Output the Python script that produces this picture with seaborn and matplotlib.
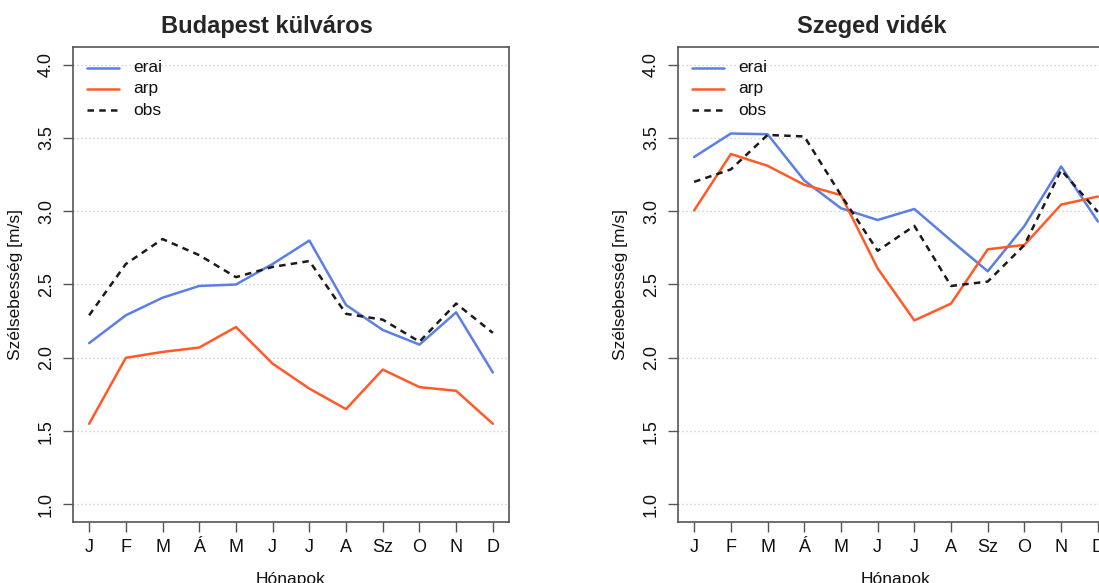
import matplotlib
matplotlib.use("Agg")
import matplotlib.pyplot as plt
import seaborn as sns
import pandas as pd

sns.set_style("white")
plt.rcParams["font.family"] = ["Liberation Sans", "DejaVu Sans"]

months = ["J", "F", "M", "Á", "M", "J", "J", "A", "Sz", "O", "N", "D"]
yticks = [1.0, 1.5, 2.0, 2.5, 3.0, 3.5, 4.0]

# Budapest külváros
bp_erai = [2.10, 2.29, 2.41, 2.49, 2.50, 2.64, 2.80, 2.36, 2.19, 2.09, 2.31, 1.90]
bp_arp = [1.55, 2.00, 2.04, 2.07, 2.21, 1.96, 1.79, 1.65, 1.92, 1.80, 1.775, 1.55]
bp_obs = [2.29, 2.64, 2.81, 2.70, 2.55, 2.62, 2.66, 2.30, 2.26, 2.11, 2.37, 2.17]

# Szeged vidék
sz_erai = [3.37, 3.53, 3.525, 3.21, 3.02, 2.94, 3.015, 2.80, 2.59, 2.90, 3.305, 2.93]
sz_arp = [3.005, 3.39, 3.31, 3.18, 3.11, 2.61, 2.255, 2.37, 2.74, 2.77, 3.045, 3.10]
sz_obs = [3.20, 3.285, 3.52, 3.51, 3.11, 2.73, 2.90, 2.49, 2.52, 2.77, 3.28, 2.995]

series_names = ["erai", "arp", "obs"]
colors = {"erai": "#5B7FE6", "arp": "#FF5A28", "obs": "#1a1a1a"}
dashes = {"erai": "", "arp": "", "obs": (2.6, 2.1)}

panels = [
    ("Budapest külváros", [bp_erai, bp_arp, bp_obs]),
    ("Szeged vidék", [sz_erai, sz_arp, sz_obs]),
]

W, H = 1099, 583
fig = plt.figure(figsize=(W / 100, H / 100), dpi=100)

ax_left_px = [73, 678]
ax_w_px = 436
ax_top_px, ax_bot_px = 47, 522

frame_col = "#555555"

for (title, vals), lx in zip(panels, ax_left_px):
    ax = fig.add_axes([lx / W, 1 - ax_bot_px / H, ax_w_px / W, (ax_bot_px - ax_top_px) / H])
    x = list(range(1, 13))
    df = pd.DataFrame({
        "x": x * 3,
        "y": vals[0] + vals[1] + vals[2],
        "s": sum([[n] * 12 for n in series_names], []),
    })
    for yt in yticks:
        ax.axhline(yt, color="#c8c8c8", lw=0.9, ls=(0, (1, 2.2)), zorder=0)
    sns.lineplot(data=df, x="x", y="y", hue="s", style="s", palette=colors,
                 dashes=dashes, ax=ax, lw=1.8, legend=False, zorder=3)

    ax.set_xlim(0.56, 12.44)
    ax.set_ylim(0.88, 4.12)
    ax.set_xticks(x)
    ax.set_xticklabels(months)
    ax.set_yticks(yticks)
    ax.set_yticklabels([f"{v:.1f}" for v in yticks], rotation=90, va="center")
    ax.tick_params(axis="both", direction="out", length=7, width=1.0,
                   color=frame_col, labelsize=13, labelcolor="#111111",
                   bottom=True, left=True)
    ax.tick_params(axis="x", pad=5)
    ax.tick_params(axis="y", pad=6)
    for sp in ax.spines.values():
        sp.set_color(frame_col)
        sp.set_linewidth(1.2)
    ax.set_xlabel("Hónapok", fontsize=12.5, labelpad=12, color="#111111")
    ax.set_ylabel("Szélsebesség [m/s]", fontsize=12.5, labelpad=11, color="#111111")
    ax.set_title(title, fontsize=17, fontweight="bold", x=0.445, pad=10)

    # legend in the upper left corner
    for i, n in enumerate(series_names):
        yy = 3.98 - i * 0.145
        ax.plot([0.94, 1.81], [yy, yy], color=colors[n], lw=1.8,
                ls=(0, dashes[n]) if dashes[n] else "-", zorder=3)
        ax.text(2.19, yy, n, fontsize=12.5, va="center", ha="left", color="#111111")

fig.savefig("out.png", dpi=100)
